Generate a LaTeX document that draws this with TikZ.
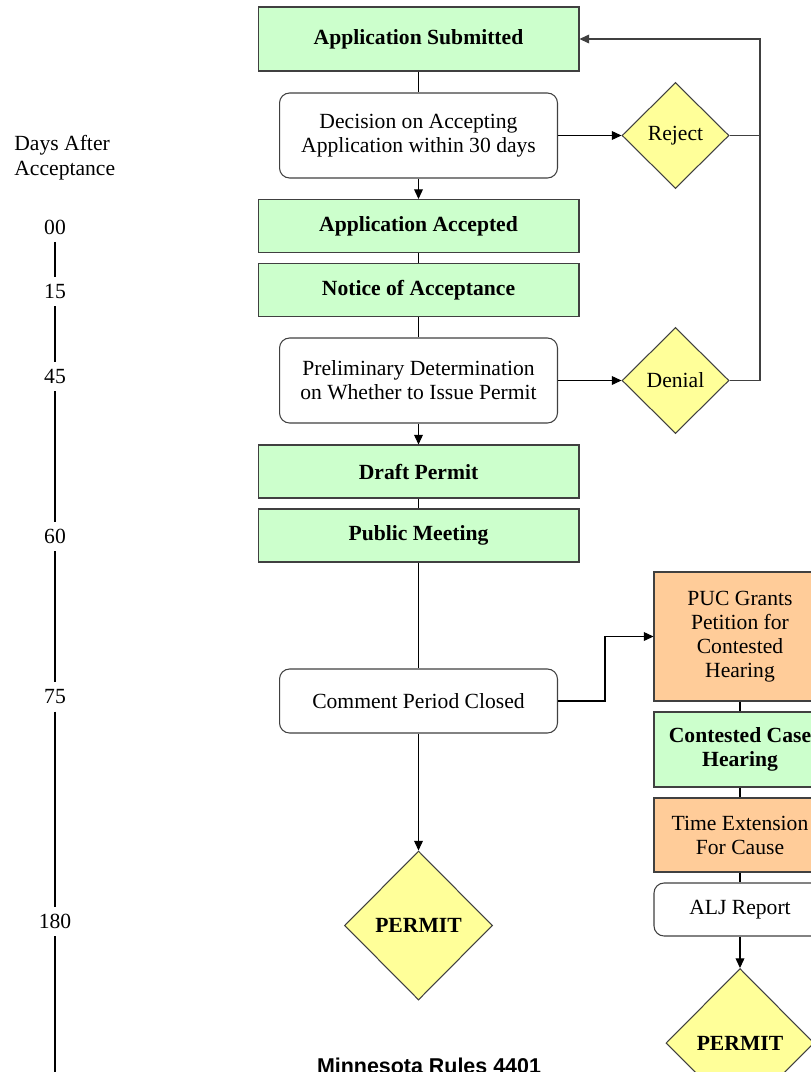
\documentclass[tikz,border=0pt]{standalone}
\usepackage{fontspec}
\setmainfont{Liberation Serif}
\setsansfont{Liberation Sans}
\usetikzlibrary{
  shapes.geometric,
  arrows.meta
}

\definecolor{stagegreen}{HTML}{CCFFCC}
\definecolor{stageorange}{HTML}{FFCC99}
\definecolor{choiceyellow}{HTML}{FFFF99}

\newcommand{\boxfont}{\fontsize{12.3}{13.7}\selectfont}

\tikzset{
  stage/.style={draw=black!75, fill=stagegreen, font=\boxfont\bfseries, inner sep=0, align=center},
  extra/.style={draw=black!75, fill=stageorange, font=\boxfont, inner sep=0, align=center},
  task/.style={draw=black!75, fill=white, font=\boxfont, rounded corners=0.2cm, inner sep=0, align=center},
  choice/.style={diamond, draw=black!75, fill=choiceyellow, font=\boxfont, inner sep=0, aspect=1},
  arr/.style={-{Triangle[length=5.5pt,width=5pt]}},
  day/.style={font=\boxfont, inner sep=4pt}
}

\begin{document}
\begin{tikzpicture}[x=0.02cm, y=-0.02cm, semithick]
  \useasboundingbox (0,0) rectangle (811,1072);
  \clip (0,0) rectangle (811,1072);

  % main column
  \node[stage, minimum width=6.42cm, minimum height=1.28cm] (sub) at (418.5,39) {Application Submitted};
  \node[task, minimum width=5.56cm, minimum height=1.7cm] (dec) at (418.5,135.5) {Decision on Accepting\\Application within 30 days};
  \node[stage, minimum width=6.42cm, minimum height=1.06cm] (acc) at (418.5,226) {Application Accepted};
  \node[stage, minimum width=6.42cm, minimum height=1.06cm] (notice) at (418.5,290) {Notice of Acceptance};
  \node[task, minimum width=5.56cm, minimum height=1.7cm] (prelim) at (418.5,380.5) {Preliminary Determination\\on Whether to Issue Permit};
  \node[stage, minimum width=6.42cm, minimum height=1.06cm] (draft) at (418.5,471.5) {Draft Permit};
  \node[stage, minimum width=6.42cm, minimum height=1.06cm] (meet) at (418.5,535.5) {Public Meeting};
  \node[task, minimum width=5.56cm, minimum height=1.28cm] (comment) at (418.5,701) {Comment Period Closed};
  \node[choice, minimum width=2.96cm, minimum height=2.98cm, font=\boxfont\bfseries] (permit) at (418.5,925.5) {PERMIT};

  % reject / deny
  \node[choice, minimum width=2.14cm, minimum height=2.12cm] (reject) at (675.5,135.5) {Reject};
  \node[choice, minimum width=2.14cm, minimum height=2.12cm] (denial) at (675.5,380.5) {Denial};
  \coordinate (back) at (760,0);

  % contested case column
  \node[extra, minimum width=3.44cm, minimum height=2.58cm] (puc) at (740,636.5) {PUC Grants\\Petition for\\Contested\\Hearing};
  \node[stage, minimum width=3.44cm, minimum height=1.5cm] (hear) at (740,749.5) {Contested Case\\Hearing};
  \node[extra, minimum width=3.44cm, minimum height=1.48cm] (ext) at (740,835) {Time Extension\\For Cause};
  \node[task, minimum width=3.44cm, minimum height=1.06cm] (alj) at (740,909.5) {ALJ Report};
  \node[choice, minimum width=2.96cm, minimum height=2.98cm, font=\boxfont\bfseries] (permitb) at (740,1043) {PERMIT};

  \draw (sub) -- (dec);
  \draw[arr] (dec) -- (acc);
  \draw (acc) -- (notice);
  \draw (notice) -- (prelim);
  \draw[arr] (prelim) -- (draft);
  \draw (draft) -- (meet);
  \draw (meet) -- (comment);
  \draw[arr] (comment) -- (permit);

  \draw[arr] (dec) -- (reject);
  \draw[arr] (prelim) -- (denial);
  \draw[black!75] (reject.east) -- (back |- reject.east);
  \draw[arr, black!75] (denial.east) -| (back |- sub.east) -- (sub.east);

  \draw[arr] (comment.east) -- ++(47,0) |- (puc.west);
  \draw (puc) -- (hear);
  \draw (hear) -- (ext);
  \draw (ext) -- (alj);
  \draw[arr] (alj) -- (permitb);

  % time line
  \node[anchor=west, align=left, font=\fontsize{12.3}{14.2}\selectfont] (days) at (8,157.5) {Days After\\Acceptance};
  \foreach \n/\y in {00/227,15/291.5,45/376.5,60/536.5,75/697,180/921.5} {
      \node[day] (d\n) at (55,\y) {\n};
    }
  \foreach \a/\b in {00/15,15/45,45/60,60/75,75/180} {
      \draw (d\a) -- (d\b);
    }
  \coordinate (tend) at (55,1100);
  \draw (d180) -- (tend);

  \node[anchor=base, font=\sffamily\bfseries\fontsize{12.2}{14}\selectfont] (title) at (429,1073) {Minnesota Rules 4401};
\end{tikzpicture}
\end{document}
